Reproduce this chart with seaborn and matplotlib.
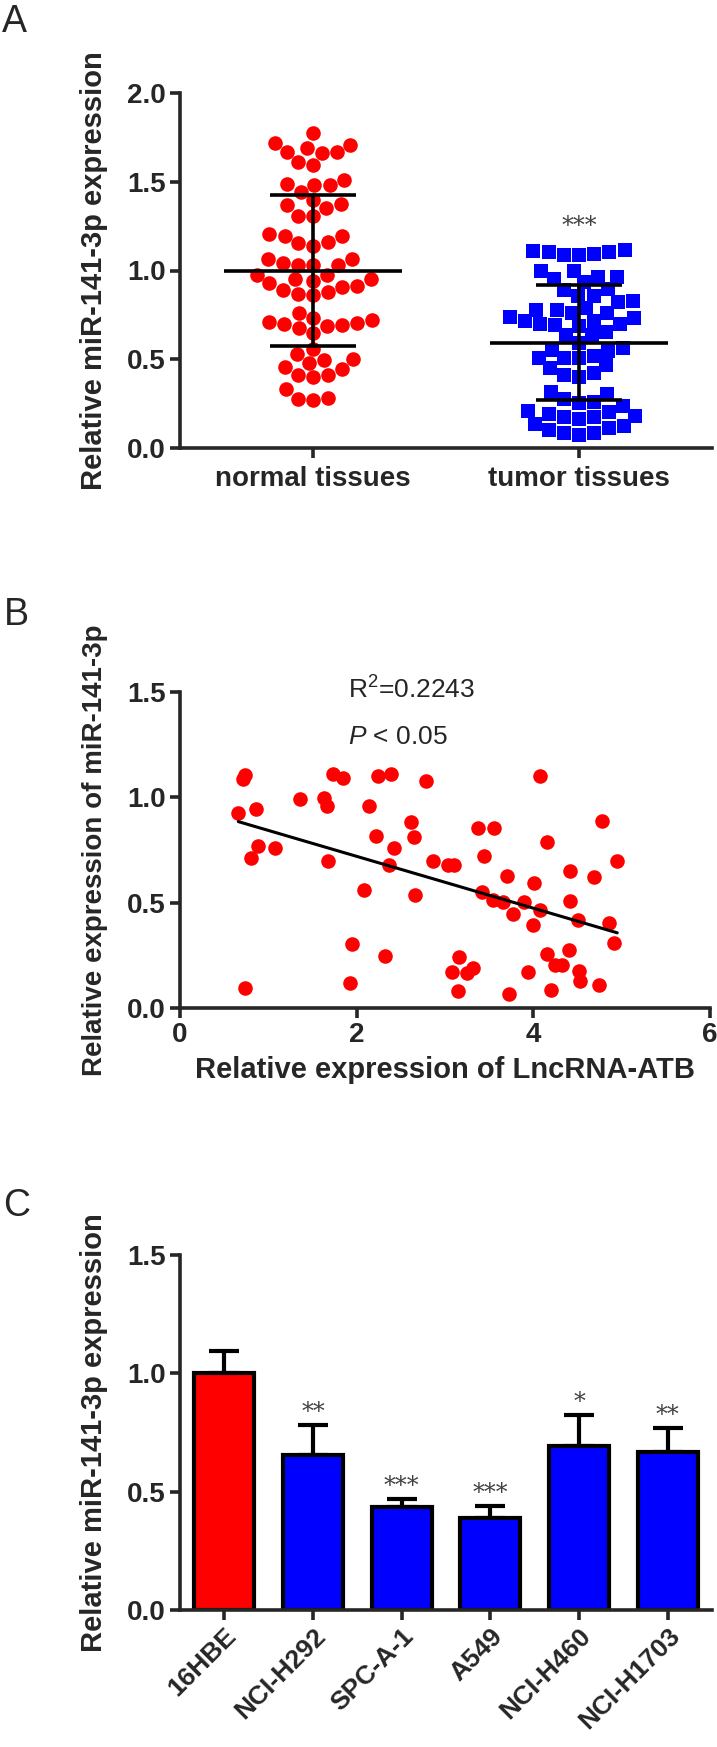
import matplotlib
matplotlib.use('Agg')
import matplotlib.pyplot as plt
import pandas as pd
import seaborn as sns

# panel A: relative miR-141-3p expression in tissues
groups = ['normal tissues', 'tumor tissues']
normal_values = [1.689, 1.668, 1.717, 1.772, 1.663, 1.668, 1.708,
                 1.612, 1.595,
                 1.512, 1.480, 1.444, 1.480, 1.485,
                 1.395, 1.369, 1.308, 1.308, 1.350, 1.372,
                 1.193, 1.159, 1.137, 1.154, 1.193, 1.205,
                 1.065, 1.031, 1.031, 0.976, 1.031, 1.042, 1.065,
                 0.973, 0.950, 0.929, 0.909, 0.877, 0.860, 0.869, 0.892, 0.914, 0.943, 0.952,
                 0.763, 0.722, 0.707, 0.692, 0.677, 0.650, 0.686, 0.697, 0.711, 0.735,
                 0.558, 0.500, 0.479, 0.528, 0.494,
                 0.443, 0.409, 0.400, 0.413, 0.458,
                 0.332, 0.283, 0.268, 0.277]
tumor_values = [1.108, 1.104, 1.095, 1.088, 1.114, 1.090, 1.104,
                0.995, 0.963, 0.952, 0.963, 0.995, 0.933, 0.892,
                0.897, 0.858, 0.826, 0.820, 0.858,
                0.788, 0.779, 0.760, 0.731, 0.713, 0.699, 0.688, 0.692, 0.699, 0.718, 0.737, 0.763, 0.779,
                0.637, 0.590, 0.552, 0.549, 0.566, 0.637, 0.656,
                0.518, 0.505, 0.467, 0.420, 0.401, 0.411, 0.449, 0.505, 0.505,
                0.307, 0.260, 0.236, 0.204, 0.194, 0.207, 0.251, 0.275, 0.315,
                0.179, 0.172, 0.134, 0.113, 0.087, 0.075, 0.087, 0.100, 0.123, 0.166, 0.175]
group_means = [1.0, 0.594]
group_sds = [0.427, 0.324]
group_stars = ['', '***']

# panel B: correlation
lnc_x = [0.66, 0.71, 0.74, 0.86, 0.74, 0.80, 0.88, 1.08, 1.36, 1.63, 1.66, 1.68, 1.73, 1.84,
         2.14, 2.22, 2.24, 2.39, 2.42, 2.37, 2.08, 1.95, 1.93, 2.32, 2.61, 2.65, 2.66, 2.79,
         2.86, 3.03, 3.10, 3.08, 3.16, 3.15, 3.25, 3.32, 3.37, 3.55, 3.44, 3.42, 3.54, 3.66,
         3.70, 3.77, 3.73, 3.89, 3.94, 4.01, 4.00, 4.08, 4.07, 4.16, 4.15, 4.24, 4.33, 4.20,
         4.41, 4.41, 4.40, 4.51, 4.52, 4.53, 4.69, 4.78, 4.86, 4.91, 4.95, 4.74]
mir_y = [0.927, 1.086, 1.106, 0.945, 0.094, 0.711, 0.771, 0.761, 0.994, 0.995, 0.958, 0.700,
         1.112, 1.094, 0.958, 0.818, 1.100, 1.109, 0.761, 0.677, 0.561, 0.303, 0.121, 0.248,
         0.885, 0.812, 0.536, 1.076, 0.697, 0.680, 0.680, 0.173, 0.241, 0.079, 0.165, 0.192,
         0.853, 0.853, 0.720, 0.553, 0.511, 0.503, 0.627, 0.445, 0.068, 0.503, 0.170, 0.591,
         0.392, 0.465, 1.102, 0.788, 0.258, 0.205, 0.203, 0.086, 0.652, 0.508, 0.273, 0.417,
         0.177, 0.127, 0.624, 0.886, 0.405, 0.309, 0.700, 0.109]

# panel C: cell lines
cells = ['16HBE', 'NCI-H292', 'SPC-A-1', 'A549', 'NCI-H460', 'NCI-H1703']
cell_means = [1.0, 0.656, 0.437, 0.388, 0.692, 0.669]
cell_errs = [0.093, 0.126, 0.031, 0.051, 0.132, 0.098]
cell_stars = ['', '**', '***', '***', '*', '**']
cell_colors = ['#ff0000', '#0000ff', '#0000ff', '#0000ff', '#0000ff', '#0000ff']

sns.set_style('ticks')
plt.rcParams['font.family'] = ['Liberation Sans', 'DejaVu Sans']
plt.rcParams['mathtext.fontset'] = 'custom'
plt.rcParams['mathtext.rm'] = 'Liberation Sans'
plt.rcParams['mathtext.it'] = 'Liberation Sans:italic'
plt.rcParams['mathtext.default'] = 'regular'

W, H = 717, 1747
fig = plt.figure(figsize=(W / 100, H / 100), dpi=100)
axA = fig.add_axes([180 / W, 1 - 448 / H, 532 / W, 355 / H])
axB = fig.add_axes([180 / W, 1 - 1008 / H, 530 / W, 316 / H])
axC = fig.add_axes([180 / W, 1 - 1610 / H, 532 / W, 355 / H])


def style_axes(ax, size=20):
    sns.despine(ax=ax)
    for side in ['left', 'bottom']:
        ax.spines[side].set_linewidth(2.6)
    ax.tick_params(direction='out', length=7, width=2.6, labelsize=size, pad=3)
    for lab in ax.get_xticklabels() + ax.get_yticklabels():
        lab.set_fontweight('bold')


# ---- A
dfA = pd.DataFrame({
    'group': [groups[0]] * len(normal_values) + [groups[1]] * len(tumor_values),
    'value': normal_values + tumor_values,
})
sns.swarmplot(data=dfA[dfA['group'] == groups[0]], x='group', y='value', order=groups,
              color='#ff0000', size=10.5, linewidth=0, ax=axA)
sns.swarmplot(data=dfA[dfA['group'] == groups[1]], x='group', y='value', order=groups,
              color='#0000ff', marker='s', size=10.5, linewidth=0, ax=axA)
for i, (m, sd) in enumerate(zip(group_means, group_sds)):
    axA.hlines(m, i - 0.335, i + 0.335, color='black', lw=2.6, zorder=5)
    axA.errorbar(i, m, yerr=sd, fmt='none', ecolor='black', elinewidth=2.6,
                 capsize=31, capthick=2.6, zorder=5)
    if group_stars[i]:
        axA.text(i, 1.25, group_stars[i], ha='center', va='center', fontsize=17,
                 color='#404040', family='DejaVu Serif')
axA.set_xlim(-0.5, 1.5)
axA.set_ylim(0, 2.0)
axA.set_yticks([0, 0.5, 1.0, 1.5, 2.0])
axA.set_xlabel('')
axA.set_ylabel('Relative miR-141-3p expression', fontsize=21, fontweight='bold')
style_axes(axA)
axA.tick_params(axis='x', labelsize=20, pad=6)

# ---- B
dfB = pd.DataFrame({'lnc': lnc_x, 'mir': mir_y})
sns.regplot(data=dfB, x='lnc', y='mir', ci=None, truncate=True, ax=axB,
            scatter_kws={'color': '#ff0000', 's': 110, 'linewidths': 0, 'alpha': 1},
            line_kws={'color': 'black', 'lw': 2.2})
axB.set_xlim(0, 6)
axB.set_ylim(0, 1.5)
axB.set_xticks([0, 2, 4, 6])
axB.set_yticks([0, 0.5, 1.0, 1.5])
axB.set_xlabel('Relative expression of LncRNA-ATB', fontsize=21, fontweight='bold', labelpad=6)
axB.set_ylabel('Relative expression of miR-141-3p', fontsize=20, fontweight='bold')
axB.text(1.9, 1.51, 'R$^{2}$=0.2243', fontsize=19, va='center')
axB.text(1.9, 1.288, '$\\it{P}$ < 0.05', fontsize=19, va='center')
style_axes(axB)
for c in axB.collections:
    c.set_clip_on(False)

# ---- C
dfC = pd.DataFrame({'cell': cells, 'mean': cell_means})
sns.barplot(data=dfC, x='cell', y='mean', hue='cell', palette=cell_colors, legend=False,
            saturation=1, width=0.68, edgecolor='black', linewidth=3, ax=axC)
axC.errorbar(range(len(cells)), cell_means, yerr=[[0] * len(cells), cell_errs], fmt='none',
             ecolor='black', elinewidth=3, capsize=10.5, capthick=3, zorder=0.5)
for i, s in enumerate(cell_stars):
    if s:
        axC.text(i, cell_means[i] + cell_errs[i] + 0.005, s, ha='center', va='bottom',
                 fontsize=17, color='#404040', family='DejaVu Serif')
axC.set_xlim(-0.5, 5.5)
axC.set_ylim(0, 1.5)
axC.set_yticks([0, 0.5, 1.0, 1.5])
axC.set_xlabel('')
axC.set_ylabel('Relative miR-141-3p expression', fontsize=21, fontweight='bold')
style_axes(axC)
plt.setp(axC.get_xticklabels(), rotation=45, ha='right', rotation_mode='anchor', fontsize=19)

for ax in [axA, axB, axC]:
    ax.yaxis.set_label_coords(-0.135, 0.5)

fig.text(0.003, 1 - 4 / H, 'A', fontsize=27, va='top')
fig.text(0.005, 1 - 597 / H, 'B', fontsize=27, va='top')
fig.text(0.005, 1 - 1188 / H, 'C', fontsize=27, va='top')

fig.savefig('out.png', dpi=100)
